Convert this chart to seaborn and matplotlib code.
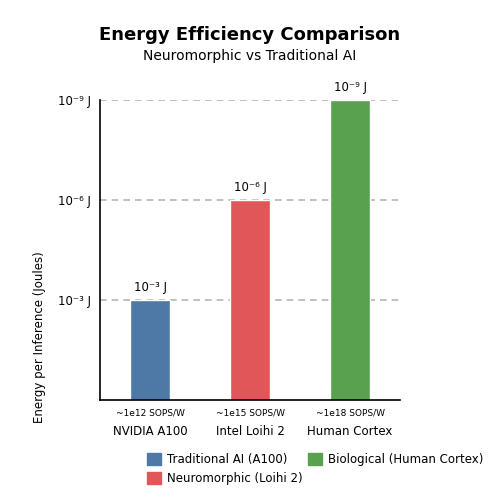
import matplotlib
matplotlib.use("Agg")
import matplotlib.pyplot as plt
from matplotlib.patches import Patch
import seaborn as sns
import pandas as pd

## data
systems = ["NVIDIA A100", "Intel Loihi 2", "Human Cortex"]
efficiency = [1, 2, 3]          # -log10 scale steps (10^-3, 10^-6, 10^-9 J)
energy_labels = ["10⁻³ J", "10⁻⁶ J", "10⁻⁹ J"]
sops_labels = ["~1e12 SOPS/W", "~1e15 SOPS/W", "~1e18 SOPS/W"]
legend_names = ["Traditional AI (A100)", "Neuromorphic (Loihi 2)", "Biological (Human Cortex)"]
colors = ["#4e79a7", "#e15759", "#59a14f"]

df = pd.DataFrame({"system": systems, "value": efficiency})

sns.set_style("white")
plt.rcParams["text.color"] = "black"
plt.rcParams["axes.labelcolor"] = "black"
plt.rcParams["xtick.color"] = "black"
plt.rcParams["ytick.color"] = "black"
fig = plt.figure(figsize=(5, 5), dpi=100)
ax = fig.add_axes([0.2, 0.2, 0.6, 0.6])

sns.barplot(data=df, x="system", y="value", hue="system", palette=colors,
            width=0.4, saturation=1, legend=False, ax=ax)

ax.set_ylim(0, 3)
ax.set_xlim(-0.5, 2.5)
ax.set_yticks([1, 2, 3])
ax.set_yticklabels(energy_labels, fontsize=8.5)
ax.yaxis.grid(True, linestyle=(0, (4, 3)), color="#b5b5b5", linewidth=1.2)
ax.set_axisbelow(True)
for s in ["top", "right"]:
    ax.spines[s].set_visible(False)
for s in ["left", "bottom"]:
    ax.spines[s].set_color("black")
    ax.spines[s].set_linewidth(1.2)

ax.set_xlabel("")
ax.set_xticks(range(3))
ax.set_xticklabels(systems, fontsize=8.5)
ax.tick_params(axis="x", pad=18, length=0)
ax.tick_params(axis="y", length=0, pad=30)
for t in ax.get_yticklabels():
    t.set_horizontalalignment("left")
ax.set_ylabel("Energy per Inference (Joules)", fontsize=8.5)
ax.yaxis.set_label_coords(-0.18, 0.21)

for i, (v, lab, sp) in enumerate(zip(efficiency, energy_labels, sops_labels)):
    ax.text(i, v + 0.06, lab, ha="center", va="bottom", fontsize=8.5)
    ax.text(i, -0.08, sp, ha="center", va="top", fontsize=6.5)

fig.text(0.5, 0.92, "Energy Efficiency Comparison", ha="center", fontsize=13, fontweight="bold")
fig.text(0.5, 0.88, "Neuromorphic vs Traditional AI", ha="center", fontsize=10)

handles = [Patch(color=c, label=n) for c, n in zip(colors, legend_names)]
fig.legend(handles=handles, loc="lower left", bbox_to_anchor=(0.285, 0.02), ncol=2,
           frameon=False, fontsize=8.5, handlelength=1.2, handleheight=1.2,
           columnspacing=0.4, handletextpad=0.5, borderaxespad=0)

fig.savefig("out.png", dpi=100)
